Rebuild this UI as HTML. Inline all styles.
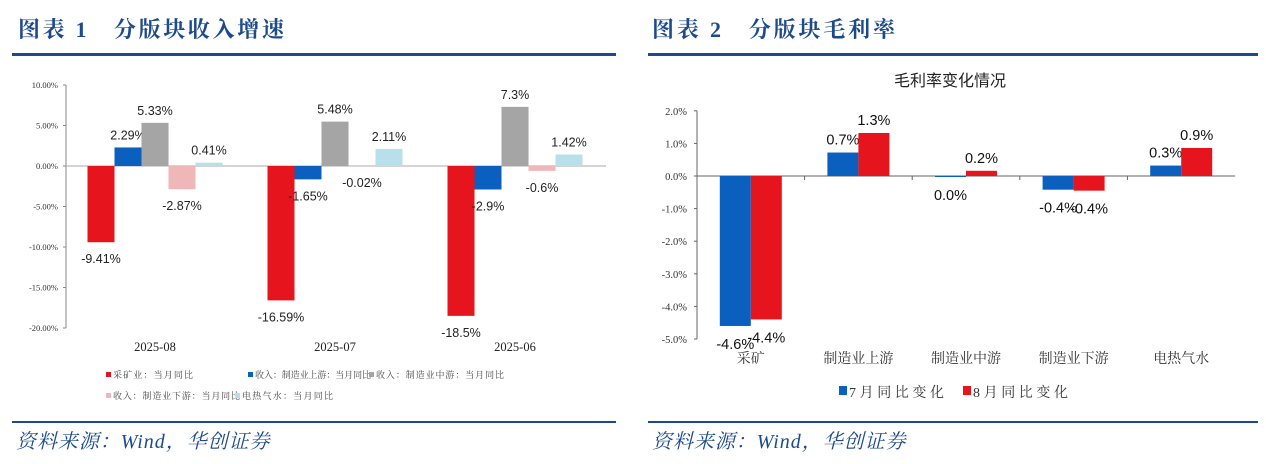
<!DOCTYPE html>
<html><head><meta charset="utf-8"><style>
html,body{margin:0;padding:0;background:#fff;width:1266px;height:464px;overflow:hidden}
svg text{font-family:"Liberation Sans","Noto Sans CJK SC",sans-serif}
svg text.serif{font-family:"Liberation Serif","Noto Serif CJK SC",serif}
.ttl{font-family:"Liberation Serif","Noto Serif CJK SC",serif!important;font-weight:bold;fill:#1d4a8c;font-size:22px;letter-spacing:2px}
.src{font-family:"Liberation Serif","Noto Serif CJK SC",serif!important;font-style:italic;fill:#1d4a8c;font-size:20px;letter-spacing:1.5px}
</style></head><body>
<svg id="svg" width="1266" height="464" xmlns="http://www.w3.org/2000/svg">
<text class="ttl" x="18" y="37" textLength="268">图表 1　分版块收入增速</text>
<rect x="12" y="53" width="604" height="3" fill="#1d4a8c"/>
<rect x="12" y="421" width="604" height="2" fill="#1d4a8c"/>
<text class="src" x="16" y="448" textLength="255">资料来源：Wind，华创证券</text>
<text class="ttl" x="652" y="37" textLength="245">图表 2　分版块毛利率</text>
<rect x="648" y="53" width="610" height="3" fill="#1d4a8c"/>
<rect x="648" y="421" width="610" height="2" fill="#1d4a8c"/>
<text class="src" x="652" y="448" textLength="255">资料来源：Wind，华创证券</text>
<g id="c1"></g><g id="c2"></g>
<text x="950" y="86" text-anchor="middle" font-size="16" fill="#222">毛利率变化情况</text>
</svg>
<script>
const NS="http://www.w3.org/2000/svg";
function mk(p,t,a,txt){const e=document.createElementNS(NS,t);for(const k in a)e.setAttribute(k,a[k]);if(txt!==undefined)e.textContent=txt;p.appendChild(e);return e;}
// chart 1 data
const c1Cats=["2025-08","2025-07","2025-06"];
const c1Series=["采矿业：当月同比","收入：制造业上游：当月同比","收入：制造业中游：当月同比","收入：制造业下游：当月同比","电热气水：当月同比"];
const c1Mining=[-9.41,-16.59,-18.5];
const c1Up=[2.29,-1.65,-2.9];
const c1Mid=[5.33,5.48,7.3];
const c1Down=[-2.87,-0.02,-0.6];
const c1Util=[0.41,2.11,1.42];
const c1Labels=[["-9.41%","-16.59%","-18.5%"],["2.29%","-1.65%","-2.9%"],["5.33%","5.48%","7.3%"],["-2.87%","-0.02%","-0.6%"],["0.41%","2.11%","1.42%"]];
const c1Ticks=[10,5,0,-5,-10,-15,-20];
// chart 2 data
const c2Cats=["采矿","制造业上游","制造业中游","制造业下游","电热气水"];
const c2Jul=[-4.6,0.72,-0.03,-0.42,0.32];
const c2Aug=[-4.4,1.32,0.16,-0.45,0.86];
const c2JulLabels=["-4.6%","0.7%","0.0%","-0.4%","0.3%"];
const c2AugLabels=["-4.4%","1.3%","0.2%","-0.4%","0.9%"];
const c2Ticks=[2,1,0,-1,-2,-3,-4,-5];

// chart 1
(function(){
const g=document.getElementById('c1');
const x0=66,cw=180,y=v=>166-v*8.1;
const colors=["#e5141d","#0a5fbf","#a5a5a5","#efb7b7","#b8e0ea"];
const data=[c1Mining,c1Up,c1Mid,c1Down,c1Util];
c1Ticks.forEach(t=>{
 const tx=mk(g,'text',{x:58,y:y(t)+3,'text-anchor':'end','font-size':8.5,fill:'#333',class:'serif'},t.toFixed(2)+'%');
 
 mk(g,'line',{x1:63,x2:66,y1:y(t),y2:y(t),stroke:'#888'});
});
const ax=mk(g,'line',{x1:66,x2:66,y1:y(10),y2:y(-20),stroke:'#888'});

const xa=mk(g,'line',{x1:66,x2:66+cw*3,y1:y(0),y2:y(0),stroke:'#aaa'});

const bw=27;
c1Cats.forEach((c,i)=>{
 const cx=x0+cw*i+cw/2-1;
 const cl=mk(g,'text',{x:cx,y:351,'text-anchor':'middle','font-size':12.5,fill:'#222',class:'serif'},c);
 
 data.forEach((s,j)=>{
  const v=s[i],bx=cx-2.5*bw+j*bw;
  const r=mk(g,'rect',{x:bx,y:Math.min(y(v),y(0)),width:bw,height:Math.abs(y(v)-y(0)),fill:colors[j]});
  
  const ly=v>=0?y(v)-8:y(v)+21;
  const t=mk(g,'text',{x:bx+bw/2,y:ly,'text-anchor':'middle','font-size':12.5,fill:'#222'},c1Labels[j][i]);
  
 });
});
const lp=[[106,378,80],[248,378,116],[369,378,128],[106,399,127],[235,399,91]];
c1Series.forEach((s,j)=>{
 const [lx,ly,lw]=lp[j];
 const r=mk(g,'rect',{x:lx,y:ly-6,width:5,height:5,fill:colors[j]});
 
 const t=mk(g,'text',{x:lx+7,y:ly,'font-size':9,fill:'#444',textLength:lw,class:'serif'},s);
 
});
})();

// chart 2
(function(){
const g=document.getElementById('c2');
const x0=697,cw=107.6,y=v=>176-v*32.6;
c2Ticks.forEach(t=>{
 const tx=mk(g,'text',{x:687,y:y(t)+4,'text-anchor':'end','font-size':10.5,fill:'#333',class:'serif'},t.toFixed(1)+'%');
 
 mk(g,'line',{x1:694,x2:697,y1:y(t),y2:y(t),stroke:'#666'});
});
const ax=mk(g,'line',{x1:697,x2:697,y1:y(2),y2:y(-5),stroke:'#666'});

const xa=mk(g,'line',{x1:697,x2:x0+cw*5,y1:y(0),y2:y(0),stroke:'#666'});

const bw=31;
c2Cats.forEach((c,i)=>{
 const cx=x0+cw*i+cw/2;
 if(i>0)mk(g,'line',{x1:x0+cw*i,x2:x0+cw*i,y1:y(0),y2:y(0)+4,stroke:'#666'});
 const cl=mk(g,'text',{x:cx,y:363,'text-anchor':'middle','font-size':14,fill:'#333',class:'serif'},c);
 
 [[c2Jul,"#0a5fbf",c2JulLabels],[c2Aug,"#e5141d",c2AugLabels]].forEach(([s,col,lab],j)=>{
  const v=s[i],bx=cx-bw+j*bw;
  const r=mk(g,'rect',{x:bx,y:Math.min(y(v),y(0)),width:bw,height:Math.max(1,Math.abs(y(v)-y(0))),fill:col});
  
  const ly=v>=0?y(v)-8:y(v)+23;
  const t=mk(g,'text',{x:bx+bw/2,y:ly,'text-anchor':'middle','font-size':14.5,fill:'#111'},lab[i]);
  
 });
});
[["7月同比变化","#0a5fbf",839],["8月同比变化","#e5141d",963]].forEach(([s,col,lx])=>{
 const r=mk(g,'rect',{x:lx,y:386,width:8,height:9,fill:col});
 
 const t=mk(g,'text',{x:lx+10,y:397,'font-size':14,fill:'#333',textLength:95,class:'serif'},s);
 
});
})();
</script>
</body></html>
